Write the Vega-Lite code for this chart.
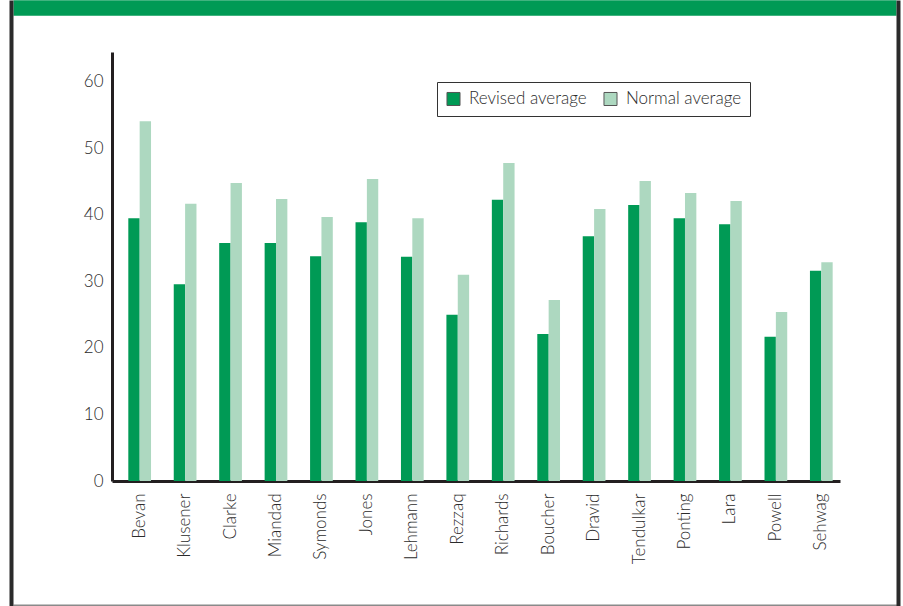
{
  "$schema": "https://vega.github.io/schema/vega-lite/v6.json",
  "width": 728,
  "height": 429,
  "autosize": {"type": "none"},
  "padding": {"left": 112, "top": 52, "right": 63, "bottom": 125},
  "background": "white",
  "config": {
    "view": {"stroke": null},
    "font": "Lato",
    "axis": {"labelFont": "Lato", "labelFontWeight": 300, "labelColor": "#2b2b2b", "labelFontSize": 17}
  },
  "data": {
    "values": [
      {"player": "Bevan", "measure": "Revised average", "value": 39.5},
      {"player": "Bevan", "measure": "Normal average", "value": 54.1},
      {"player": "Klusener", "measure": "Revised average", "value": 29.6},
      {"player": "Klusener", "measure": "Normal average", "value": 41.7},
      {"player": "Clarke", "measure": "Revised average", "value": 35.8},
      {"player": "Clarke", "measure": "Normal average", "value": 44.8},
      {"player": "Miandad", "measure": "Revised average", "value": 35.8},
      {"player": "Miandad", "measure": "Normal average", "value": 42.4},
      {"player": "Symonds", "measure": "Revised average", "value": 33.8},
      {"player": "Symonds", "measure": "Normal average", "value": 39.7},
      {"player": "Jones", "measure": "Revised average", "value": 38.9},
      {"player": "Jones", "measure": "Normal average", "value": 45.4},
      {"player": "Lehmann", "measure": "Revised average", "value": 33.7},
      {"player": "Lehmann", "measure": "Normal average", "value": 39.5},
      {"player": "Rezzaq", "measure": "Revised average", "value": 25.0},
      {"player": "Rezzaq", "measure": "Normal average", "value": 31.0},
      {"player": "Richards", "measure": "Revised average", "value": 42.3},
      {"player": "Richards", "measure": "Normal average", "value": 47.8},
      {"player": "Boucher", "measure": "Revised average", "value": 22.1},
      {"player": "Boucher", "measure": "Normal average", "value": 27.2},
      {"player": "Dravid", "measure": "Revised average", "value": 36.8},
      {"player": "Dravid", "measure": "Normal average", "value": 40.9},
      {"player": "Tendulkar", "measure": "Revised average", "value": 41.5},
      {"player": "Tendulkar", "measure": "Normal average", "value": 45.1},
      {"player": "Ponting", "measure": "Revised average", "value": 39.5},
      {"player": "Ponting", "measure": "Normal average", "value": 43.3},
      {"player": "Lara", "measure": "Revised average", "value": 38.6},
      {"player": "Lara", "measure": "Normal average", "value": 42.1},
      {"player": "Powell", "measure": "Revised average", "value": 21.7},
      {"player": "Powell", "measure": "Normal average", "value": 25.4},
      {"player": "Sehwag", "measure": "Revised average", "value": 31.6},
      {"player": "Sehwag", "measure": "Normal average", "value": 32.9}
    ]
  },
  "resolve": {
    "scale": {"x": "independent", "y": "independent"},
    "axis": {"x": "independent", "y": "independent"}
  },
  "layer": [
    {
      "mark": {"type": "bar"},
      "encoding": {
        "x": {
          "field": "player",
          "type": "nominal",
          "sort": null,
          "scale": {"paddingInner": 0.5, "paddingOuter": 0.26, "align": 0.69},
          "axis": {
            "title": null,
            "orient": "bottom",
            "labelAngle": -90,
            "labelPadding": 12,
            "ticks": false,
            "domainColor": "#231f20",
            "domainWidth": 3
          }
        },
        "xOffset": {
          "field": "measure",
          "type": "nominal",
          "sort": ["Revised average", "Normal average"]
        },
        "y": {
          "field": "value",
          "type": "quantitative",
          "scale": {"domain": [0, 64.5], "nice": false},
          "axis": {
            "title": null,
            "orient": "left",
            "values": [0, 10, 20, 30, 40, 50, 60],
            "grid": false,
            "ticks": false,
            "labelPadding": 9,
            "domainColor": "#231f20",
            "domainWidth": 3
          }
        },
        "color": {
          "field": "measure",
          "type": "nominal",
          "sort": ["Revised average", "Normal average"],
          "scale": {"domain": ["Revised average", "Normal average"], "range": ["#009a55", "#add8c0"]},
          "legend": {
            "title": null,
            "orient": "none",
            "legendX": 325,
            "legendY": 30,
            "direction": "horizontal",
            "strokeColor": "#333333",
            "fillColor": "white",
            "padding": 8,
            "symbolType": "square",
            "symbolSize": 170,
            "symbolStrokeColor": "#555555",
            "symbolStrokeWidth": 1,
            "labelFont": "Lato",
            "labelFontWeight": 300,
            "labelFontSize": 17,
            "labelColor": "#2b2b2b",
            "labelOffset": 7,
            "columnPadding": 14
          }
        }
      }
    },
    {
      "mark": {"type": "point", "opacity": 0, "size": 0},
      "encoding": {
        "x": {
          "datum": 0,
          "type": "quantitative",
          "scale": {"domain": [0, 1], "range": [-99, 784]},
          "axis": {"title": null, "orient": "top", "labels": false, "ticks": false, "grid": false, "domainColor": "#009a55", "domainWidth": 15.5, "offset": 44.5}
        },
        "y": {
          "datum": 0,
          "type": "quantitative",
          "scale": {"domain": [0, 1], "range": [554, -52]},
          "axis": {"title": null, "orient": "left", "labels": false, "ticks": false, "grid": false, "domainColor": "#2a2a2a", "domainWidth": 4, "offset": 101}
        }
      }
    },
    {
      "mark": {"type": "point", "opacity": 0, "size": 0},
      "encoding": {
        "x": {
          "datum": 0,
          "type": "quantitative",
          "scale": {"domain": [0, 1], "range": [-99, 786]},
          "axis": {"title": null, "orient": "bottom", "labels": false, "ticks": false, "grid": false, "domainColor": "#8a8a8a", "domainWidth": 2, "offset": 124}
        },
        "y": {
          "datum": 0,
          "type": "quantitative",
          "scale": {"domain": [0, 1], "range": [554, -52]},
          "axis": {"title": null, "orient": "right", "labels": false, "ticks": false, "grid": false, "domainColor": "#2a2a2a", "domainWidth": 4, "offset": 58}
        }
      }
    }
  ]
}
